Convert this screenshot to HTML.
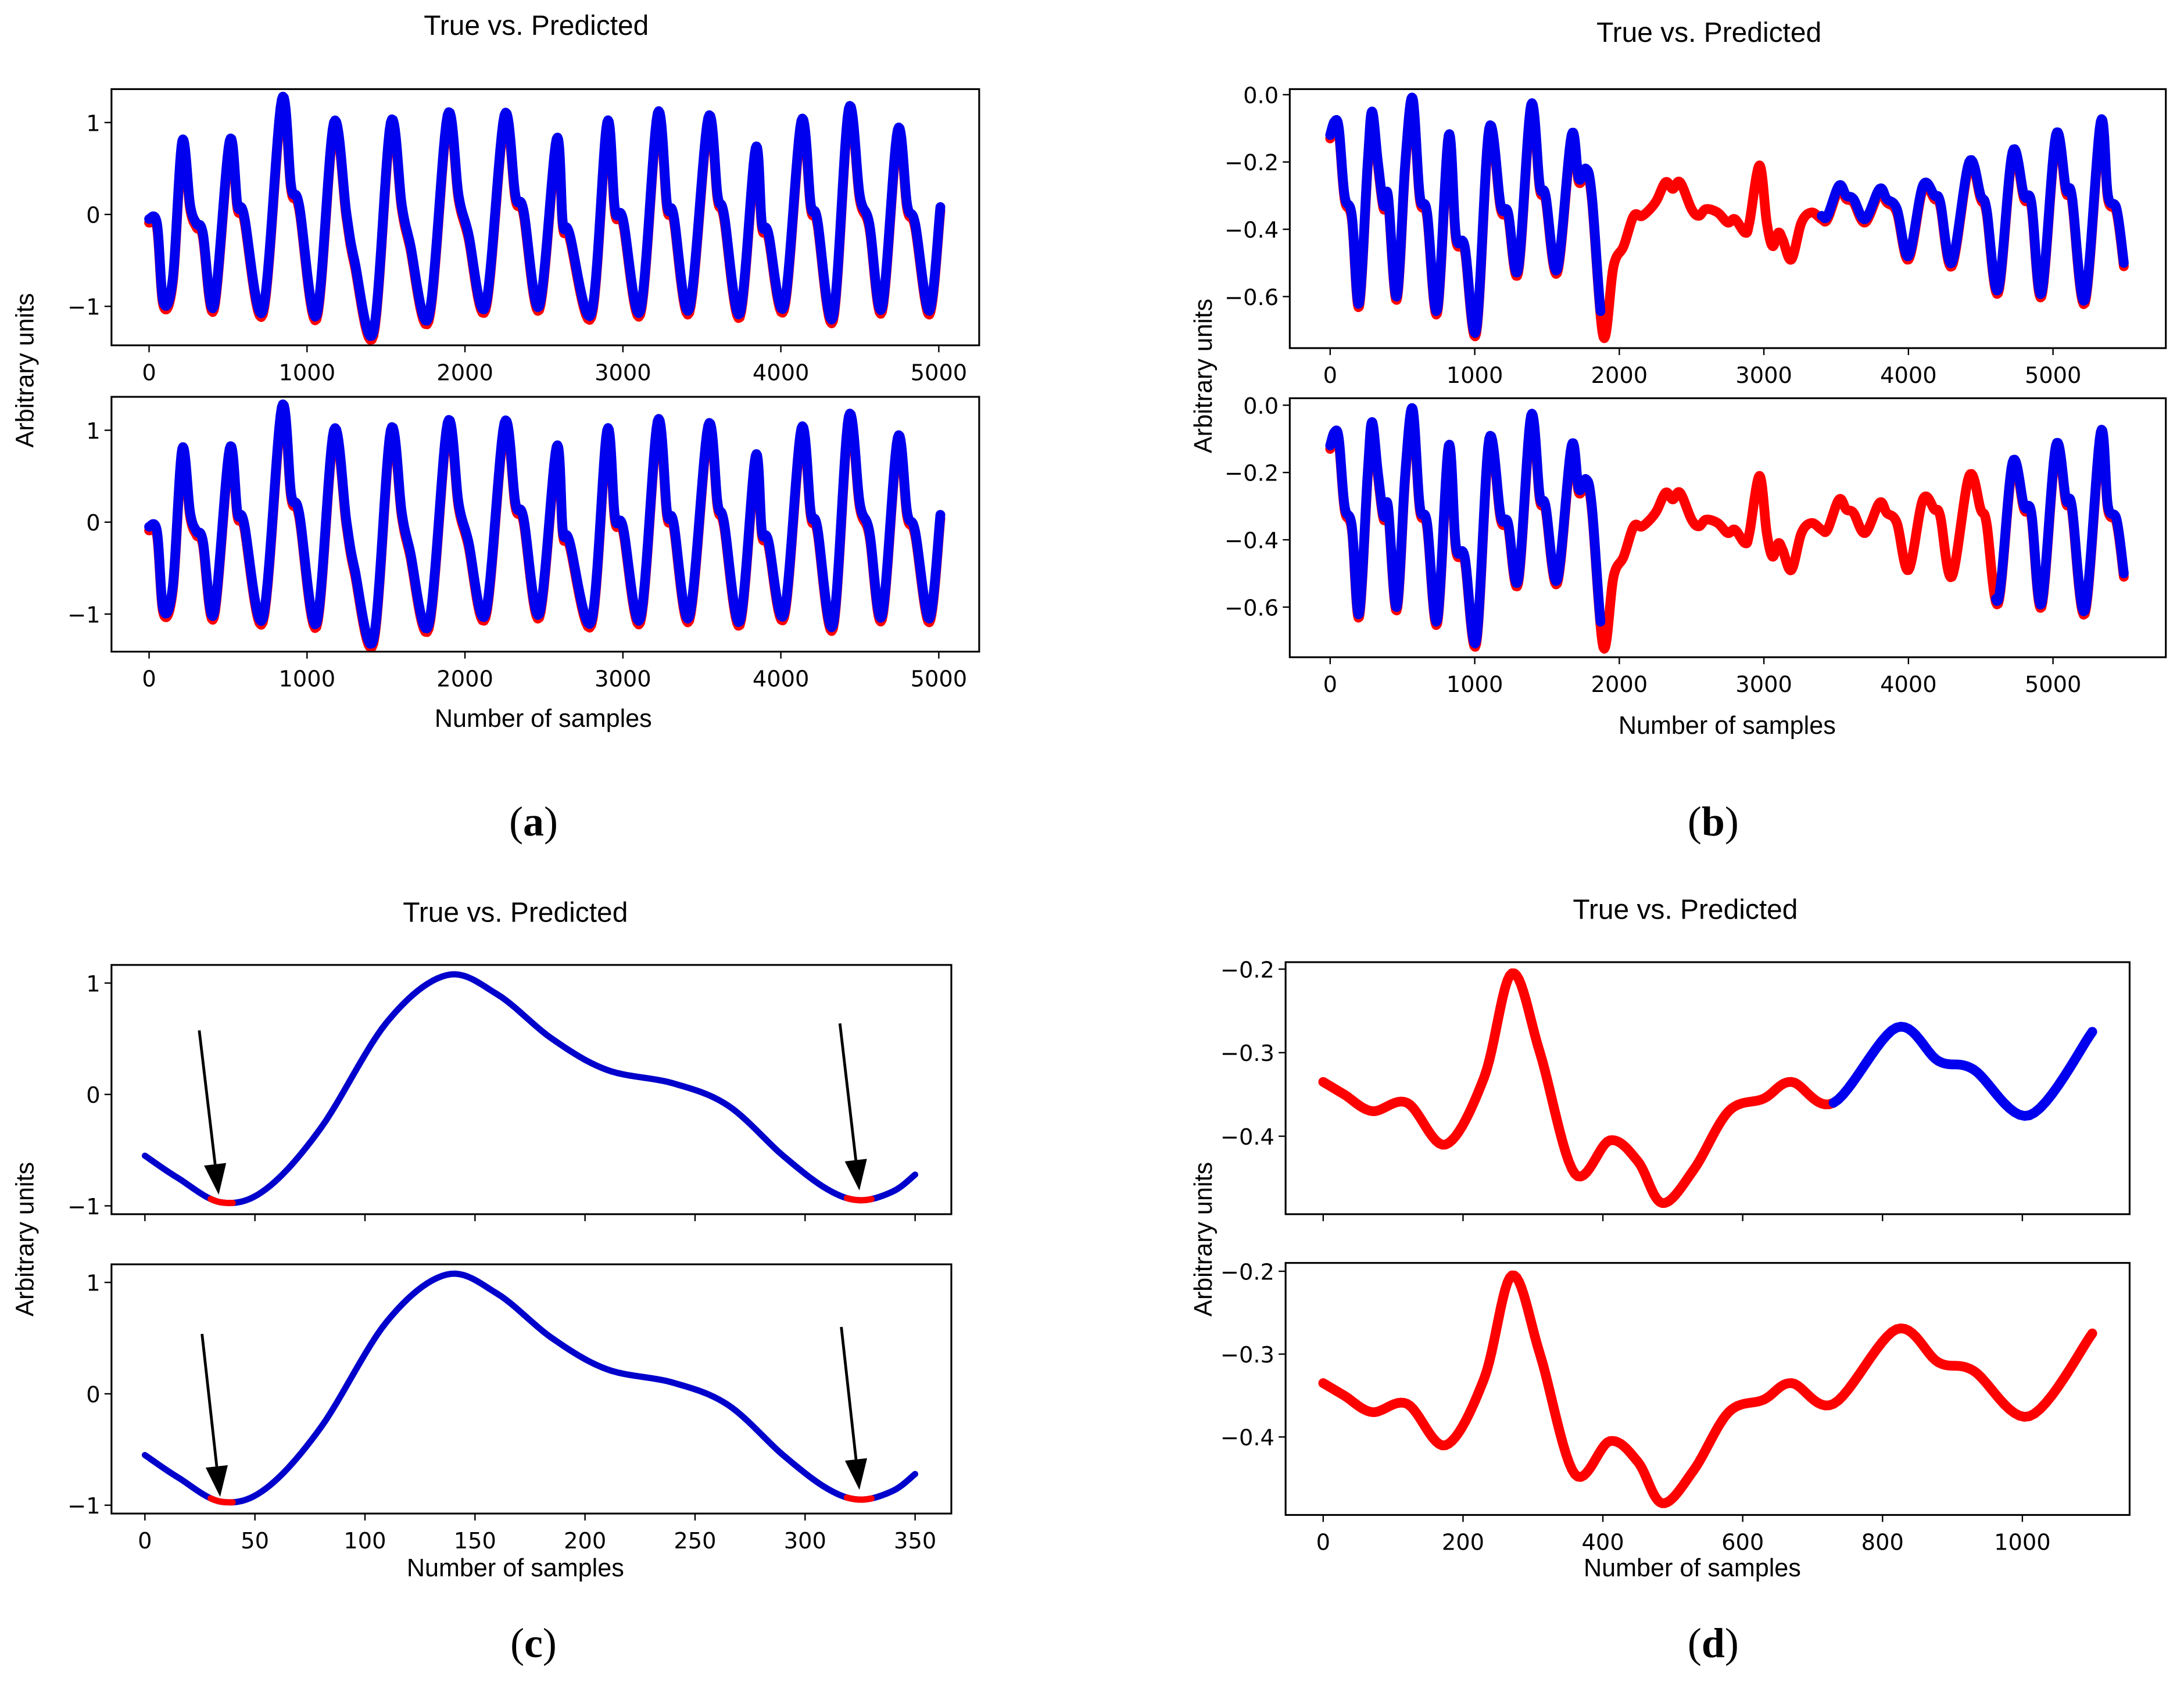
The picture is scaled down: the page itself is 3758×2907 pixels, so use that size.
<!DOCTYPE html>
<html><head><meta charset="utf-8">
<style>
html,body{margin:0;padding:0;background:#fff;}
svg{display:block;}
text{font-family:"DejaVu Sans","Liberation Sans",sans-serif;fill:#000;}
.lab{font-family:"Liberation Sans","DejaVu Sans",sans-serif;}
</style></head>
<body>
<svg id="fig" width="3758" height="2907" viewBox="0 0 1568 1213" xmlns="http://www.w3.org/2000/svg"></svg>
<script>
// ---------- data ----------
const aX=[0,50,90,150,210,260,300,340,410,510,560,600,720,840,900,950,1060,1170,1250,1300,1420,1530,1600,1650,1770,1890,1960,2020,2130,2250,2320,2370,2470,2580,2620,2660,2800,2900,2950,3000,3110,3220,3280,3320,3420,3540,3600,3640,3740,3840,3880,3920,4020,4130,4190,4230,4330,4430,4500,4560,4640,4740,4800,4850,4940,5010];
const aY=[-0.05,-0.1,-0.95,-0.7,0.8,0.1,-0.1,-0.2,-1.0,0.8,0.1,0.0,-1.05,1.25,0.3,0.1,-1.1,1.0,0.0,-0.5,-1.28,1.0,0.1,-0.3,-1.12,1.08,0.2,-0.2,-1.0,1.08,0.2,0.05,-1.0,0.82,-0.1,-0.2,-1.08,1.0,0.05,-0.05,-1.05,1.1,0.1,0.0,-1.03,1.05,0.2,0.0,-1.08,0.72,-0.1,-0.2,-1.0,1.02,0.1,-0.05,-1.12,1.15,0.2,-0.1,-1.02,0.92,0.1,-0.1,-1.05,0.08];
const bX=[0,30,60,100,150,200,260,290,330,370,400,460,520,570,620,670,740,820,870,930,1010,1100,1180,1230,1300,1390,1450,1490,1570,1670,1720,1770,1810,1890,1960,2030,2100,2160,2250,2320,2370,2420,2500,2550,2600,2680,2750,2800,2870,2900,2970,3020,3060,3100,3130,3190,3260,3330,3400,3440,3520,3570,3620,3700,3800,3850,3920,4000,4100,4180,4220,4300,4420,4500,4540,4620,4720,4800,4850,4920,5020,5090,5130,5220,5330,5380,5440,5490];
const bY=[-0.12,-0.08,-0.1,-0.3,-0.36,-0.62,-0.2,-0.05,-0.2,-0.33,-0.3,-0.6,-0.2,-0.01,-0.3,-0.35,-0.64,-0.12,-0.42,-0.45,-0.7,-0.1,-0.33,-0.35,-0.52,-0.03,-0.27,-0.3,-0.52,-0.12,-0.25,-0.22,-0.3,-0.71,-0.5,-0.44,-0.35,-0.35,-0.31,-0.25,-0.27,-0.25,-0.33,-0.35,-0.33,-0.34,-0.37,-0.36,-0.4,-0.37,-0.2,-0.37,-0.44,-0.4,-0.42,-0.48,-0.37,-0.34,-0.36,-0.36,-0.27,-0.3,-0.31,-0.37,-0.28,-0.31,-0.34,-0.48,-0.27,-0.3,-0.32,-0.5,-0.2,-0.3,-0.34,-0.58,-0.17,-0.3,-0.32,-0.59,-0.12,-0.28,-0.3,-0.61,-0.08,-0.3,-0.34,-0.5];
const bRedTop=[1870,3400];
const bRedBottom=[1870,4600];
const cX=[0,15,35,55,80,110,137,160,185,210,240,265,290,310,325,340,350];
const cY=[-0.55,-0.75,-0.97,-0.85,-0.3,0.65,1.07,0.9,0.5,0.22,0.1,-0.1,-0.55,-0.85,-0.95,-0.87,-0.72];
const cRed=[[29,41],[318,331]];
const dX=[0,30,70,120,175,230,270,310,360,410,450,485,530,580,630,670,730,820,880,930,1010,1100];
const dY=[-0.335,-0.35,-0.37,-0.36,-0.41,-0.33,-0.205,-0.3,-0.445,-0.405,-0.43,-0.48,-0.44,-0.37,-0.355,-0.335,-0.36,-0.27,-0.31,-0.32,-0.375,-0.275];
const aXTicks=[0,1000,2000,3000,4000,5000];
const aYTicks=[1,0,-1];
const bXTicks=[0,1000,2000,3000,4000,5000];
const bYTicks=[0,-0.2,-0.4,-0.6];
const bYLabels=["0.0","\u22120.2","\u22120.4","\u22120.6"];
const cXTicks=[0,50,100,150,200,250,300,350];
const cYTicks=[1,0,-1];
const dXTicks=[0,200,400,600,800,1000];
const dYTicks=[-0.2,-0.3,-0.4];
const dYLabels=["\u22120.2","\u22120.3","\u22120.4"];

const NS="http://www.w3.org/2000/svg";
const svg=document.getElementById('fig');
function mk(tag,attrs,parent){const e=document.createElementNS(NS,tag);for(const k in attrs)e.setAttribute(k,attrs[k]);(parent||svg).appendChild(e);return e;}
function txt(s,x,y,size,anchor,parent,extra){const t=mk('text',Object.assign({x:x,y:y,'font-size':size,'text-anchor':anchor||'middle'},extra||{}),parent);t.textContent=s;return t;}
function lin(d0,d1,p0,p1){return v=>p0+(v-d0)*(p1-p0)/(d1-d0);}
function dense(X,Y){const out=[];for(let i=0;i<X.length-1;i++){const i0=Math.max(0,i-1),i3=Math.min(X.length-1,i+2);for(let s=0;s<12;s++){const t=s/12,t2=t*t,t3=t2*t;const f=(a,b,c,d)=>0.5*((2*b)+(-a+c)*t+(2*a-5*b+4*c-d)*t2+(-a+3*b-3*c+d)*t3);out.push([f(X[i0],X[i],X[i+1],X[i3]),f(Y[i0],Y[i],Y[i+1],Y[i3])]);}}out.push([X[X.length-1],Y[Y.length-1]]);return out;}
function pathOf(pts,sx,sy,lo,hi){let d='';let started=false;for(const p of pts){if(p[0]<lo||p[0]>hi){started=false;continue;}d+=(started?'L':'M')+sx(p[0]).toFixed(2)+','+sy(p[1]).toFixed(2);started=true;}return d;}
function axesBox(x0,y0,x1,y1,name){mk('rect',{x:x0,y:y0,width:x1-x0,height:y1-y0,fill:'none',stroke:'#000','stroke-width':1.3,});}
function xTicks(ticks,sx,yb,labels,name,showLabels){const g=mk('g',{});ticks.forEach((t,i)=>{const x=sx(t);mk('line',{x1:x,x2:x,y1:yb,y2:yb+5,stroke:'#000','stroke-width':1},g);if(showLabels)txt(labels?labels[i]:String(t),x,yb+25,16,'middle',g);});}
function yTicks(ticks,sy,xl,labels,name){const g=mk('g',{});ticks.forEach((t,i)=>{const y=sy(t);mk('line',{x1:xl-5,x2:xl,y1:y,y2:y,stroke:'#000','stroke-width':1},g);txt(labels?labels[i]:(t<0?'\u2212'+Math.abs(t):String(t)),xl-8,y+6,16,'end',g);});}
function drawLine(d,color,w,name){const p=mk('path',{d:d,fill:'none',stroke:color,'stroke-width':w,'stroke-linejoin':'round','stroke-linecap':'round'});return p;}
function arrow(x1,y1,x2,y2,name){const g=mk('g',{});const dx=x2-x1,dy=y2-y1,L=Math.hypot(dx,dy),ux=dx/L,uy=dy/L;const hl=22,hw=8;const bx=x2-ux*hl,by=y2-uy*hl;mk('line',{x1:x1,y1:y1,x2:bx,y2:by,stroke:'#000','stroke-width':2},g);mk('polygon',{points:`${x2},${y2} ${bx-uy*hw},${by+ux*hw} ${bx+uy*hw},${by-ux*hw}`,fill:'#000'},g);}
function label(s,x,y,size,name,rot){const ex={'class':'lab',};if(rot)ex.transform=`rotate(-90 ${x} ${y})`;return txt(s,x,y,size,'middle',null,ex);}

// ---------- panel a ----------
{const pts=dense(aX,aY);const sx=lin(0,5000,107,674);
 [[64,248,88,220,'top'],[285,468,309,441,'bottom']].forEach(([t,b,y1,ym1,pos])=>{
  const sy=lin(1,-1,y1,ym1);
  drawLine(pathOf(pts.map(p=>[p[0],p[1]-0.04]),sx,sy,-1,1e9),'#ff0000',7,'a-'+pos+'-true-line');
  drawLine(pathOf(pts,sx,sy,-1,1e9),'#0000ee',7,'a-'+pos+'-predicted-line');
  axesBox(80,t,703,b,'a-'+pos+'-axes');
  xTicks(aXTicks,sx,b,null,'a-'+pos+'-x-ticks',true);
  yTicks(aYTicks,sy,80,null,'a-'+pos+'-y-ticks');});
 label('True vs. Predicted',385,25,20,'a-title');
 label('Number of samples',390,522,18,'a-x-axis-title');
 label('Arbitrary units',24,266,18,'a-y-axis-title',true);
}
// ---------- panel b ----------
{const pts=dense(bX,bY);const sx=lin(0,5000,955,1474);
 [[64,250,68,213,'top',bRedTop],[286,472,291,436,'bottom',bRedBottom]].forEach(([t,b,y0,y6,pos,red])=>{
  const sy=lin(0,-0.6,y0,y6);
  drawLine(pathOf(pts.map(p=>[p[0],p[1]-0.01]),sx,sy,-1,1e9),'#ff0000',7,'b-'+pos+'-true-line');
  drawLine(pathOf(pts,sx,sy,-1,red[0]),'#0000ee',7,'b-'+pos+'-predicted-line-start');
  drawLine(pathOf(pts,sx,sy,red[1],1e9),'#0000ee',7,'b-'+pos+'-predicted-line-end');
  axesBox(926,t,1555,b,'b-'+pos+'-axes');
  xTicks(bXTicks,sx,b,null,'b-'+pos+'-x-ticks',true);
  yTicks(bYTicks,sy,926,bYLabels,'b-'+pos+'-y-ticks');});
 label('True vs. Predicted',1227,30,20,'b-title');
 label('Number of samples',1240,527,18,'b-x-axis-title');
 label('Arbitrary units',870,270,18,'b-y-axis-title',true);
}
// ---------- panel c ----------
{const pts=dense(cX,cY);const sx=lin(0,350,104,657);
 [[693,872,706,866,'top',[[143,740,157,858],[603,735,617,855]]],[908,1087,921,1081,'bottom',[[145,958,158,1075],[604,953,617,1070]]]].forEach(([t,b,y1,ym1,pos,arr],k)=>{
  const sy=lin(1,-1,y1,ym1);
  drawLine(pathOf(pts,sx,sy,-1,1e9),'#0000cc',4.5,'c-'+pos+'-predicted-line');
  cRed.forEach((r,i)=>drawLine(pathOf(pts,sx,sy,r[0],r[1]),'#ff0000',4.5,'c-'+pos+'-true-segment-'+(i+1)));
  axesBox(80,t,683,b,'c-'+pos+'-axes');
  xTicks(cXTicks,sx,b,null,'c-'+pos+'-x-ticks',k===1);
  yTicks(cYTicks,sy,80,null,'c-'+pos+'-y-ticks');
  arr.forEach((a,i)=>arrow(a[0],a[1],a[2],a[3],'c-'+pos+'-arrow-'+(i+1)));});
 label('True vs. Predicted',370,662,20,'c-title');
 label('Number of samples',370,1132,18,'c-x-axis-title');
 label('Arbitrary units',24,890,18,'c-y-axis-title',true);
}
// ---------- panel d ----------
{const pts=dense(dX,dY);const sx=lin(0,1000,950,1452);
 [[691,872,696,816,'top'],[907,1088,913,1032,'bottom']].forEach(([t,b,y2,y4,pos],k)=>{
  const sy=lin(-0.2,-0.4,y2,y4);
  if(k===0){drawLine(pathOf(pts,sx,sy,-1,730),'#ff0000',7,'d-top-true-line');
   drawLine(pathOf(pts,sx,sy,728,1e9),'#0000ee',7,'d-top-predicted-line');
   drawLine(pathOf(pts,sx,sy,1004,1016),'#ff0000',7,'d-top-true-dot');}
  else drawLine(pathOf(pts,sx,sy,-1,1e9),'#ff0000',7,'d-bottom-true-line');
  axesBox(923,t,1529,b,'d-'+pos+'-axes');
  xTicks(dXTicks,sx,b,null,'d-'+pos+'-x-ticks',k===1);
  yTicks(dYTicks,sy,923,dYLabels,'d-'+pos+'-y-ticks');});
 label('True vs. Predicted',1210,660,20,'d-title');
 label('Number of samples',1215,1132,18,'d-x-axis-title');
 label('Arbitrary units',870,890,18,'d-y-axis-title',true);
}
// ---------- panel letters ----------
[['a',383,600],['b',1230,600],['c',383,1190],['d',1230,1190]].forEach(([l,x,y])=>{
 const t=mk('text',{x:x,y:y,'font-size':30,'text-anchor':'middle',style:'font-family:"Liberation Serif",serif'});
 
 
 const s1=mk('tspan',{},t);s1.textContent='(';
 const s2=mk('tspan',{'font-weight':'bold'},t);s2.textContent=l;
 const s3=mk('tspan',{},t);s3.textContent=')';
});
</script>
</body></html>
